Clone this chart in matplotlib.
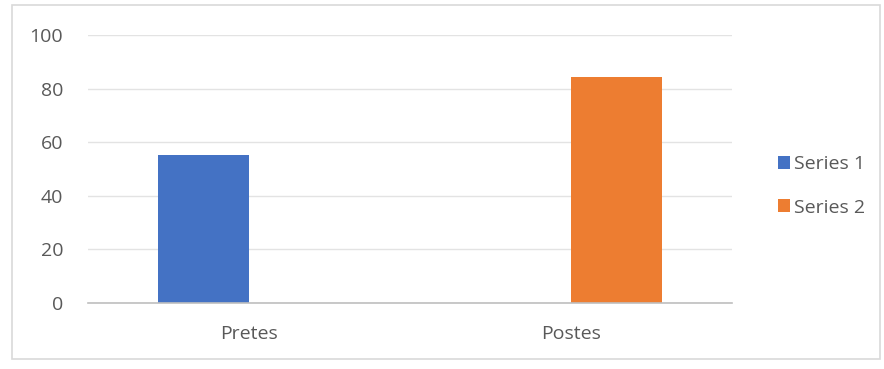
import numpy as np
import matplotlib.pyplot as plt
from matplotlib.patches import Rectangle

categories = ["Pretes", "Postes"]
series1 = [55.3, 0]
series2 = [0, 84.4]
series_names = ["Series 1", "Series 2"]
yticks = [0, 20, 40, 60, 80, 100]

plt.rcParams["font.family"] = ["Open Sans", "DejaVu Sans"]

fig = plt.figure(figsize=(8.84, 3.69), dpi=100)
fig.patches.append(Rectangle((12 / 884, 10 / 369), 868 / 884, 354 / 369,
                             transform=fig.transFigure, fill=False,
                             edgecolor="#d9d9d9", linewidth=1.2))

ax = fig.add_axes([88 / 884, 1 - 303 / 369, 644 / 884, 268 / 369])
x = np.arange(len(categories))
w = 0.283
ax.bar(x - w / 2, series1, w, color="#4472c4", label=series_names[0])
ax.bar(x + w / 2, series2, w, color="#ed7d31", label=series_names[1])

ax.set_xlim(-0.5, 1.5)
ax.set_ylim(0, 100)
ax.set_yticks(yticks)
ax.set_xticks(x)
ax.set_xticklabels(categories)
ax.yaxis.grid(True, color="#e3e3e3", linewidth=1)
ax.set_axisbelow(True)
for s in ["top", "right", "left"]:
    ax.spines[s].set_visible(False)
ax.spines["bottom"].set_color("#bfbfbf")
ax.spines["bottom"].set_linewidth(1.2)
ax.tick_params(axis="both", length=0, labelsize=14, labelcolor="#595959")
ax.tick_params(axis="y", pad=18)
ax.tick_params(axis="x", pad=16)

ax.legend(loc="center left", bbox_to_anchor=(1.045, 0.437), frameon=False,
          fontsize=14, labelcolor="#595959", handlelength=0.6, handleheight=0.6,
          handletextpad=0.2, labelspacing=1.3)

fig.savefig("out.png", dpi=100)
